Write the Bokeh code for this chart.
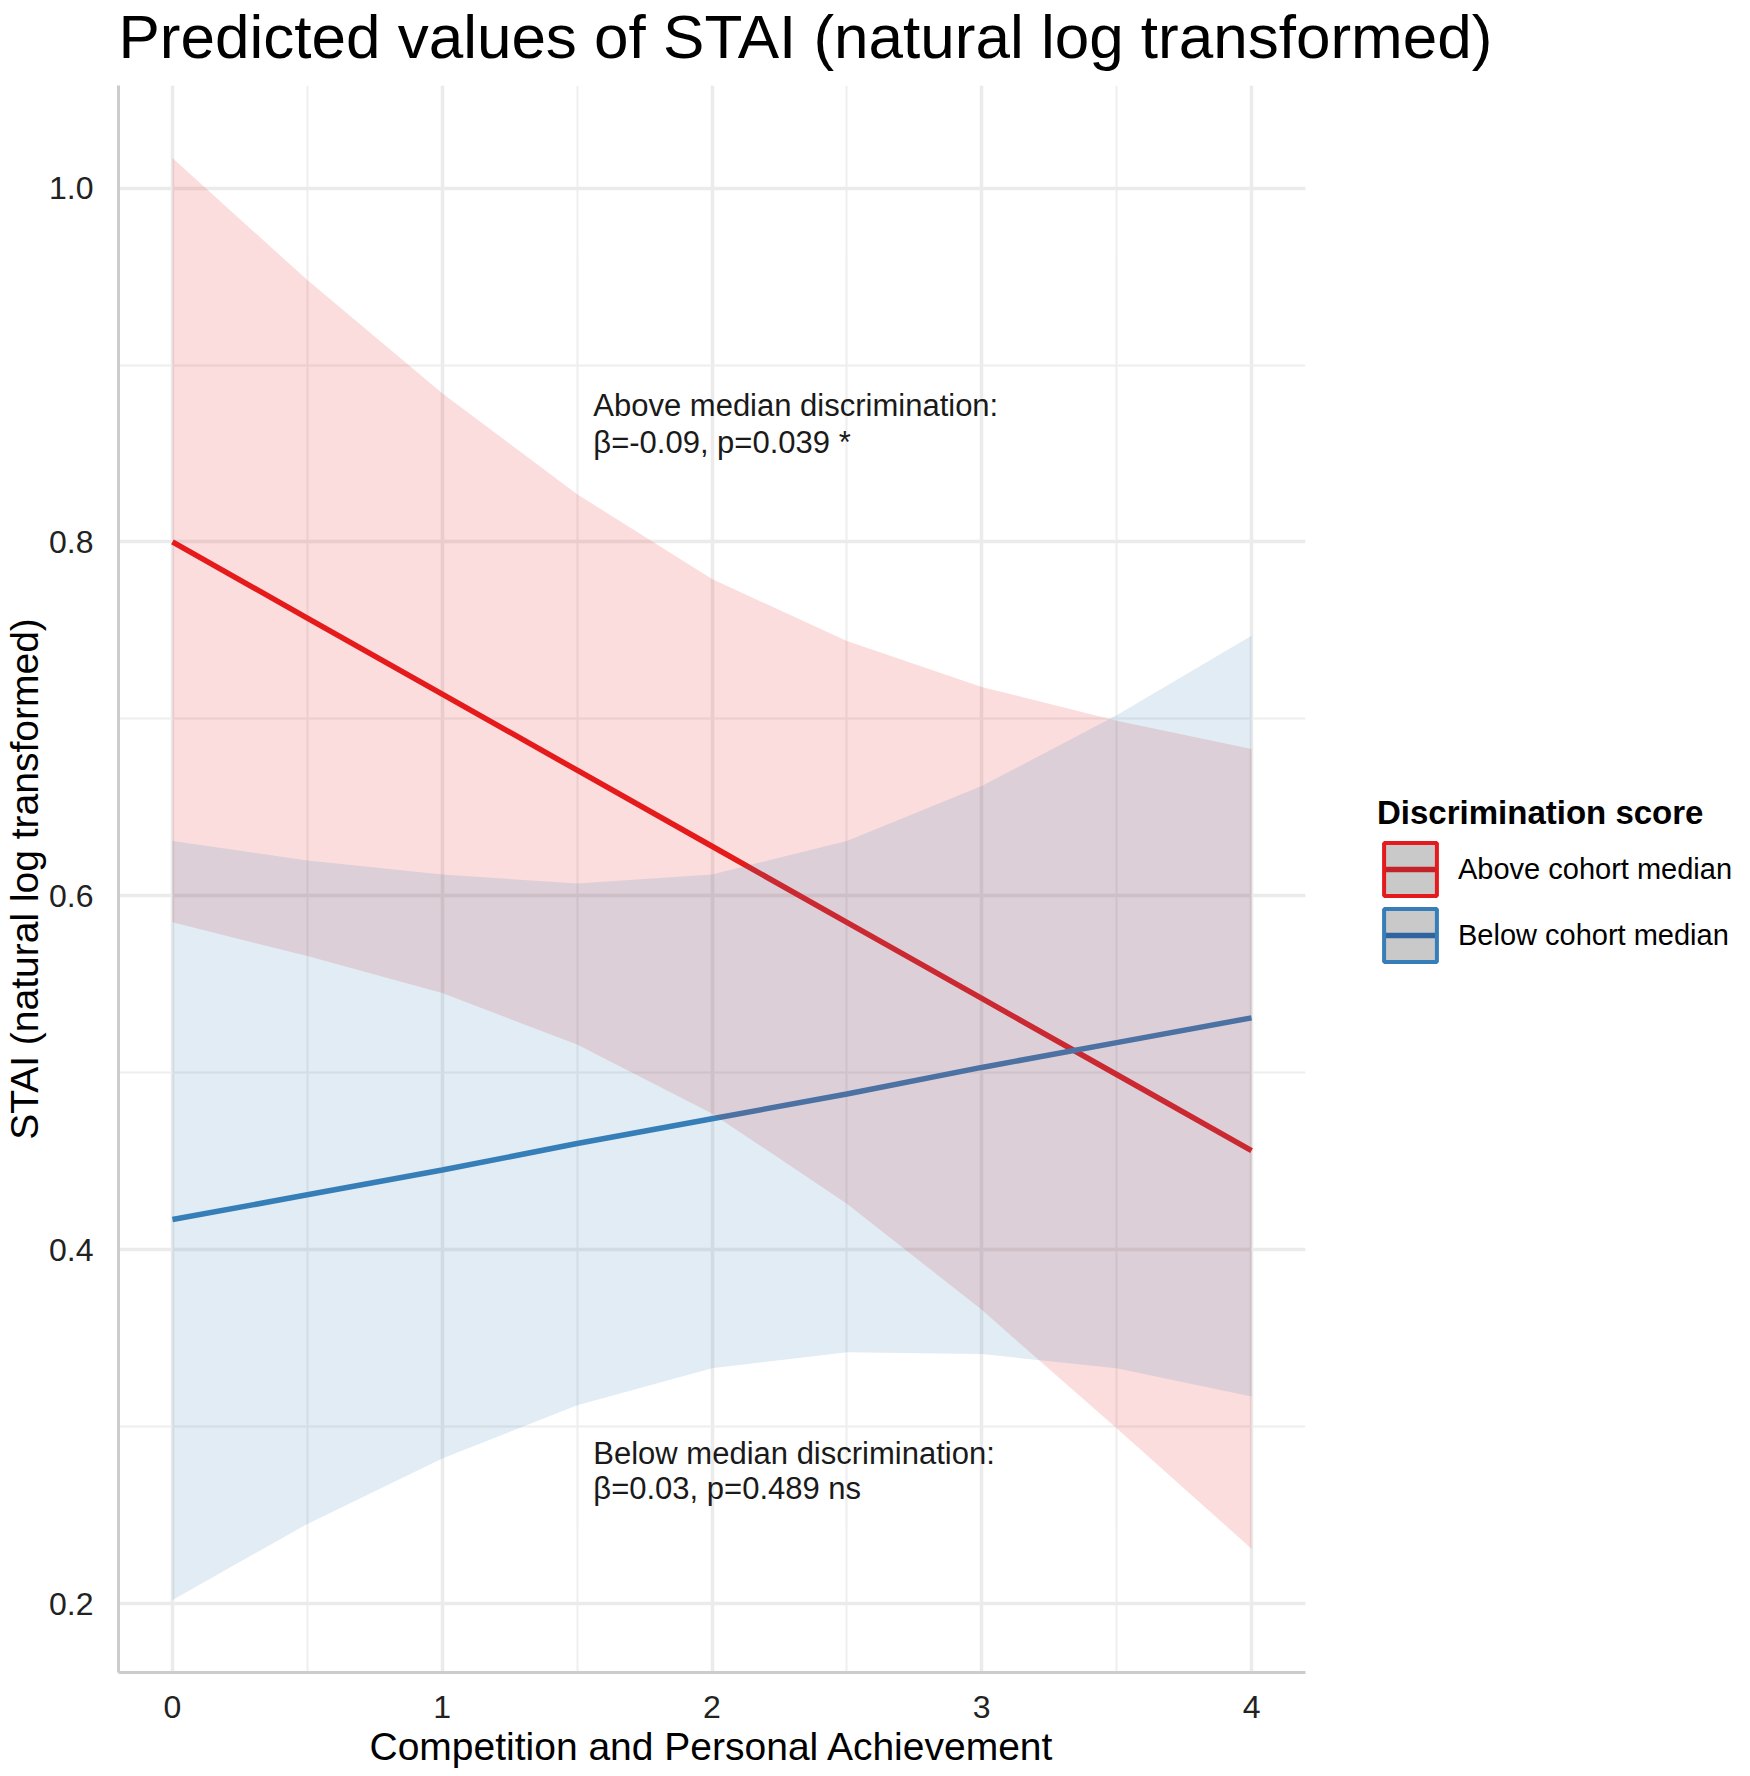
from bokeh.plotting import figure
from bokeh.models import (Legend, LegendItem, SingleIntervalTicker, Range1d,
                          PrintfTickFormatter, Title)
from bokeh.embed import file_html
from bokeh.resources import INLINE
from bokeh.core.properties import value

# ---------------- data ----------------
x_vals = [0, 0.5, 1, 1.5, 2, 2.5, 3, 3.5, 4]

above_fit = [0.800, 0.757, 0.714, 0.671, 0.628, 0.585, 0.542, 0.499, 0.456]
above_hi = [1.017, 0.948, 0.884, 0.827, 0.779, 0.744, 0.718, 0.699, 0.683]
above_lo = [0.585, 0.566, 0.545, 0.516, 0.477, 0.426, 0.366, 0.299, 0.231]

below_fit = [0.417, 0.431, 0.445, 0.460, 0.474, 0.488, 0.503, 0.517, 0.531]
below_hi = [0.631, 0.620, 0.612, 0.607, 0.612, 0.631, 0.662, 0.702, 0.747]
below_lo = [0.202, 0.245, 0.282, 0.312, 0.333, 0.342, 0.341, 0.333, 0.317]

series_labels = ["Above cohort median", "Below cohort median"]
legend_title = "Discrimination score"

annot_text = ["Above median discrimination:", "\u03b2=-0.09, p=0.039 *",
              "Below median discrimination:", "\u03b2=0.03, p=0.489 ns"]
annot_x = [1.56, 1.56, 1.56, 1.56]
annot_y = [0.877, 0.856, 0.285, 0.265]

title_text = "Predicted values of STAI (natural log transformed)"
x_label = "Competition and Personal Achievement"
y_label = "STAI (natural log transformed)"

# ---------------- styling ----------------
FONT = "Liberation Sans"
RED = "#E41A1C"
BLUE = "#377EB8"
NAN = float("nan")

p = figure(frame_width=1187, frame_height=1587,
           x_range=Range1d(-0.2, 4.2), y_range=Range1d(0.161, 1.058),
           output_backend="svg", toolbar_location=None,
           min_border_left=117, min_border_top=85, min_border_bottom=88,
           min_border_right=430,
           title=title_text, x_axis_label=x_label, y_axis_label=y_label)

p.outline_line_color = None
p.background_fill_color = "white"
p.border_fill_color = "white"

p.title.text_font = FONT
p.title.text_font_size = "62px"
p.title.text_font_style = "normal"
p.title.text_color = "black"
p.title.align = "left"
p.title.vertical_align = "top"
p.title.standoff = 0
p.title.offset = 0

# thin empty spacer between the title and the plot area (pushes the title up)
p.add_layout(Title(text=" ", text_font_size="1px", standoff=10), "above")

p.xaxis.ticker = SingleIntervalTicker(interval=1, num_minor_ticks=2)
p.yaxis.ticker = SingleIntervalTicker(interval=0.2, num_minor_ticks=2)
p.yaxis.formatter = PrintfTickFormatter(format="%.1f")

for ax in (p.xaxis[0], p.yaxis[0]):
    ax.axis_line_color = "#CCCCCC"
    ax.axis_line_width = 3
    ax.major_tick_line_color = None
    ax.minor_tick_line_color = None
    ax.major_label_text_font = FONT
    ax.major_label_text_font_size = "32px"
    ax.major_label_text_color = "#222222"
    ax.axis_label_text_font = FONT
    ax.axis_label_text_font_size = "39px"
    ax.axis_label_text_font_style = "normal"
    ax.axis_label_text_color = "black"
    ax.axis_label_standoff = 0

p.xaxis.major_label_standoff = 17
p.xaxis.axis_label_standoff = 4
p.yaxis.major_label_standoff = 19

for g in (p.xgrid[0], p.ygrid[0]):
    g.grid_line_color = "#EBEBEB"
    g.grid_line_width = 3.5
    g.minor_grid_line_color = "#EEEEEE"
    g.minor_grid_line_width = 2

# lines first, ribbons on top (as in the reference)
p.line(x_vals, above_fit, line_color=RED, line_width=5.5)
p.line(x_vals, below_fit, line_color=BLUE, line_width=5.5)
p.varea(x=x_vals, y1=above_lo, y2=above_hi, fill_color=RED, fill_alpha=0.15)
p.varea(x=x_vals, y1=below_lo, y2=below_hi, fill_color=BLUE, fill_alpha=0.15)

p.text(x=annot_x, y=annot_y, text=annot_text, text_font=value(FONT),
       text_font_size="31px", text_color="#1A1A1A",
       text_align="left", text_baseline="middle")

# legend key renderers (NaN data: nothing drawn in the plot, only in the legend)
key_a = p.rect(x=[NAN], y=[NAN], width=1, height=1, fill_color="#C9C9C9",
               line_color=RED, line_width=4,
               hatch_pattern="horizontal_line", hatch_color="#C4222B",
               hatch_weight=5.5, hatch_scale=65)
key_b = p.rect(x=[NAN], y=[NAN], width=1, height=1, fill_color="#C9C9C9",
               line_color=BLUE, line_width=4,
               hatch_pattern="horizontal_line", hatch_color="#2F64A0",
               hatch_weight=5.5, hatch_scale=65)

legend = Legend(items=[LegendItem(label=series_labels[0], renderers=[key_a]),
                       LegendItem(label=series_labels[1], renderers=[key_b])],
                title=legend_title,
                location=(72, 704),
                title_text_font=FONT, title_text_font_size="33px",
                title_text_font_style="bold", title_text_color="black",
                label_text_font=FONT, label_text_font_size="29px",
                label_text_color="black",
                glyph_width=66, glyph_height=66, label_height=66,
                spacing=0, padding=0, margin=0, label_standoff=15,
                title_standoff=4,
                border_line_color=None, background_fill_alpha=0)
p.add_layout(legend, "right")

open("out.html", "w").write(file_html(p, INLINE))
